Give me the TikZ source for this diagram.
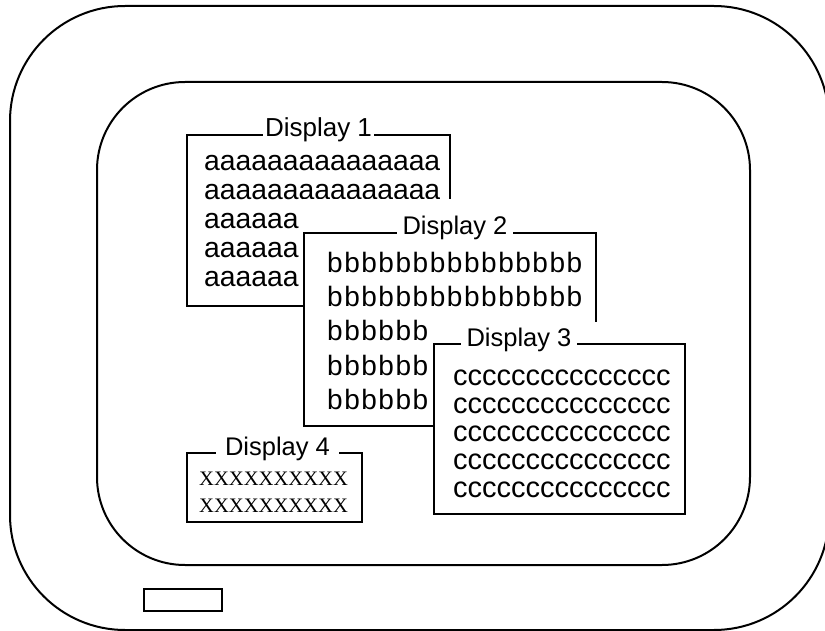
\documentclass[tikz,border=0pt]{standalone}
\usepackage{fontspec}
\setmainfont{Liberation Sans}
\newfontfamily\serifx{Liberation Serif}
\usetikzlibrary{calc,positioning}
\tikzstyle{win}=[draw, fill=white, line width=2pt, rectangle, inner sep=0pt, anchor=north west]
\tikzstyle{sheet}=[fill=white, rectangle, inner sep=0pt, anchor=south west]
\tikzstyle{title}=[fill=white, inner xsep=6pt, inner ysep=1pt, anchor=base,
  font=\fontsize{25.5}{25.5}\selectfont]
\tikzstyle{rows}=[align=left, inner sep=0pt, anchor=north west]

\begin{document}
\begin{tikzpicture}[x=1pt, y=-1pt]
  \useasboundingbox (0,0) rectangle (825,631);
  % casing, screen and button
  \draw[line width=2pt, rounded corners=115pt] (10,6) rectangle (829,630);
  \draw[line width=2pt, rounded corners=88pt] (97,82) rectangle (750,565);
  \draw[line width=2pt] (144,589) rectangle (222,611);
  % Display 1
  \node[win, minimum width=263pt, minimum height=171pt] (d1) at (186,134) {};
  \node[title, inner xsep=2.5pt, font=\fontsize{26}{26}\selectfont]
    (t1) at ($(d1.north west)+(132.5,3)$) {Display 1};
  \node[rows, font=\fontsize{28.3}{29}\selectfont] (r1) at ($(d1.north west)+(18,21)$)
    {aaaaaaaaaaaaaaa\\aaaaaaaaaaaaaaa\\aaaaaa\\aaaaaa\\aaaaaa};
  % Display 2 (its sheet hides part of Display 1)
  \node[sheet, minimum width=292pt, minimum height=226pt] (s2) at (303,425) {};
  \node[win, minimum width=292pt, minimum height=193pt] (d2) at (s2.south west |- 0,232) {};
  \node[title] (t2) at ($(d2.north west)+(152,3)$) {Display 2};
  \node[rows, font=\fontsize{28}{34.25}\selectfont\addfontfeatures{LetterSpace=5.5}]
    (r2) at ($(d2.north west)+(24,20)$)
    {bbbbbbbbbbbbbbb\\bbbbbbbbbbbbbbb\\bbbbbb\\bbbbbb\\bbbbbb};
  % Display 3
  \node[sheet, minimum width=251pt, minimum height=191pt] (s3) at (433,513) {};
  \node[win, minimum width=251pt, minimum height=170pt] (d3) at (s3.south west |- 0,343) {};
  \node[title] (t3) at ($(d3.north west)+(86,3)$) {Display 3};
  \node[rows, font=\fontsize{29}{28}\selectfont] (r3) at ($(d3.north west)+(20,27)$)
    {ccccccccccccccc\\ccccccccccccccc\\ccccccccccccccc\\ccccccccccccccc\\ccccccccccccccc};
  % Display 4
  \node[win, minimum width=175pt, minimum height=69pt] (d4) at (186,452) {};
  \node[title, inner xsep=9.5pt] (t4) at ($(d4.north west)+(91.5,3)$) {Display 4};
  \node[rows, font=\serifx\fontsize{20.6}{27}\selectfont] (r4) at ($(d4.north west)+(13,20)$)
    {XXXXXXXXXX\\XXXXXXXXXX};
\end{tikzpicture}
\end{document}
